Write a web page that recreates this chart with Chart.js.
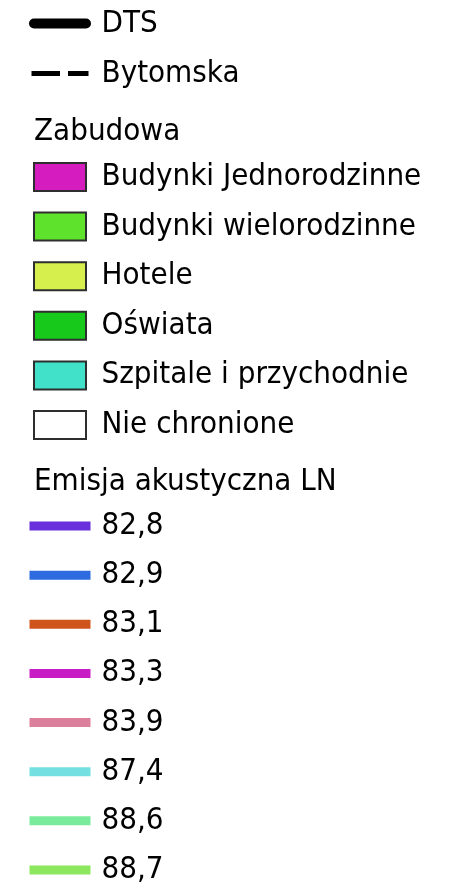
<!DOCTYPE html>
<html lang="pl">
<head>
  <meta charset="UTF-8" />
  <title>Legenda</title>
  <script src="https://cdn.jsdelivr.net/npm/chart.js"></script>
  <style>
    html, body { margin: 0; padding: 0; background: #fff; overflow: hidden; }
    body { width: 468px; height: 892px; position: relative; }
    .box { position: absolute; left: 0; width: 468px; }
  </style>
</head>
<body>
  <div class="box" style="top:0px;height:110px"><canvas id="roads"></canvas></div>
  <div class="box" style="top:110px;height:360px"><canvas id="buildings"></canvas></div>
  <div class="box" style="top:460px;height:450px"><canvas id="emission"></canvas></div>
  <script>
    // roads
    const roadNames = ['DTS', 'Bytomska'];

    // buildings
    const buildingTitle = 'Zabudowa';
    const buildingNames = ['Budynki Jednorodzinne', 'Budynki wielorodzinne', 'Hotele', 'Oświata', 'Szpitale i przychodnie', 'Nie chronione'];
    const buildingColors = ['#d41cbf', '#5ee22c', '#d6ef4c', '#17c91a', '#41e0c9', '#ffffff'];

    // acoustic emission LN
    const emissionTitle = 'Emisja akustyczna LN';
    const emissionValues = [82.8, 82.9, 83.1, 83.3, 83.9, 87.4, 88.6, 88.7];
    const emissionColors = ['#6a2fdc', '#2e6be0', '#cf541c', '#c81cc4', '#db7f9b', '#74dfe0', '#7aeb9b', '#8de75e'];

    const FONT = "'DejaVu Sans Condensed', 'DejaVu Sans', sans-serif";
    const SIZE = 31;
    Chart.defaults.color = '#000';
    Chart.defaults.font.family = FONT;

    const roadStyles = [
      { lineWidth: 10, lineCap: 'round', lineDash: [] },
      { lineWidth: 5, lineCap: 'square', lineDash: [23.5, 13] }
    ];

    // legend clips to its own box, which cuts the line caps and long labels
    const unclippedLegend = {
      id: 'unclippedLegend',
      beforeDraw(chart) {
        const lg = chart.legend;
        if (lg && !lg._unclipped && typeof lg._draw === 'function') {
          lg._unclipped = true;
          lg.draw = function () { if (this.options.display) this._draw(); };
        }
      }
    };

    function makeLegend(id, items, title, padTop, rowStep, titleGap) {
      return new Chart(document.getElementById(id), {
        type: 'line',
        data: { labels: [], datasets: items.map(it => ({ label: it.text[0], data: [] })) },
        options: {
          responsive: true,
          maintainAspectRatio: false,
          animation: false,
          layout: { padding: { left: 34, top: padTop, right: 0, bottom: 0 } },
          scales: { x: { display: false }, y: { display: false } },
          plugins: {
            tooltip: { enabled: false },
            legend: {
              position: 'left',
              align: 'start',
              maxWidth: 434,
              title: {
                display: !!title,
                text: title || '',
                position: 'start',
                color: '#000',
                padding: { top: 0, bottom: titleGap },
                font: { family: FONT, size: SIZE, lineHeight: 1.2 }
              },
              labels: {
                usePointStyle: true,
                pointStyleWidth: 52,
                boxHeight: 28,
                padding: 0,
                color: '#000',
                font: { family: FONT, size: SIZE, lineHeight: rowStep / SIZE },
                generateLabels: () => items
              }
            }
          }
        },
        plugins: [unclippedLegend]
      });
    }

    const roadItems = roadNames.map((name, i) => ({
      text: [name],
      pointStyle: 'line',
      strokeStyle: '#000',
      fillStyle: '#000',
      lineWidth: roadStyles[i].lineWidth,
      lineCap: roadStyles[i].lineCap,
      lineDash: roadStyles[i].lineDash,
      fontColor: '#000',
      hidden: false,
      datasetIndex: i
    }));

    const buildingItems = buildingNames.map((name, i) => ({
      text: [name],
      pointStyle: 'rect',
      fillStyle: buildingColors[i],
      strokeStyle: '#2e2e2e',
      lineWidth: 2,
      lineJoin: 'miter',
      fontColor: '#000',
      hidden: false,
      datasetIndex: i
    }));

    const emissionItems = emissionValues.map((v, i) => ({
      text: [v.toFixed(1).replace('.', ',')],
      pointStyle: 'line',
      strokeStyle: emissionColors[i],
      fillStyle: emissionColors[i],
      lineWidth: 9,
      lineCap: 'square',
      fontColor: '#000',
      hidden: false,
      datasetIndex: i
    }));

    makeLegend('roads', roadItems, null, 8, 50, 0);
    makeLegend('buildings', buildingItems, buildingTitle, 6.5, 49.6, 7.8);
    makeLegend('emission', emissionItems, emissionTitle, 6.5, 49.14, 6.8);
  </script>
</body>
</html>
